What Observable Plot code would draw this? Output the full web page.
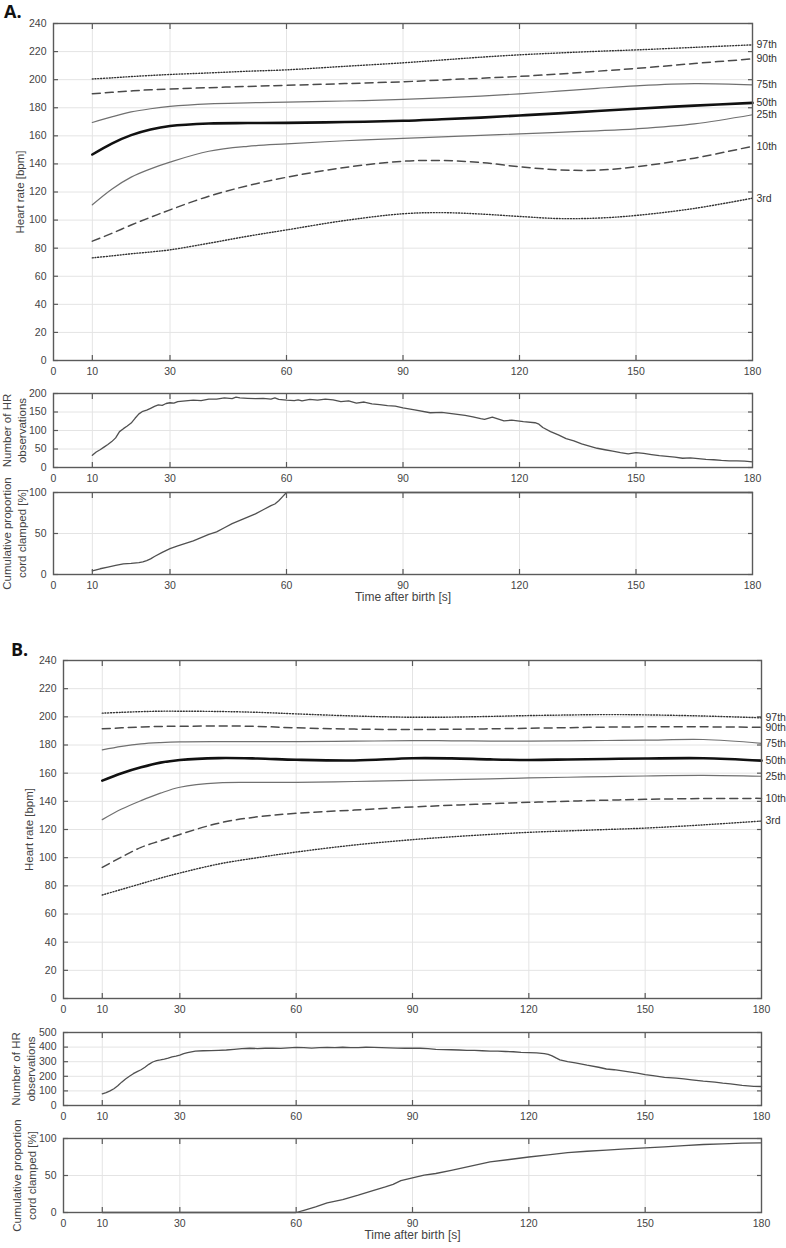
<!DOCTYPE html>
<html>
<head>
<meta charset="utf-8">
<script src="https://cdn.jsdelivr.net/npm/d3@7"></script>
<script src="https://cdn.jsdelivr.net/npm/@observablehq/plot@0.6"></script>
<style>
  html, body { margin: 0; padding: 0; background: #fff; }
  #root { position: relative; width: 786px; height: 1248px; background: #fff; overflow: hidden; }
  .panel { position: absolute; left: 0; }
  .tag { position: absolute; font-family: "Open Sans", "DejaVu Sans", sans-serif; font-weight: 700; font-size: 18px; line-height: 20px; color: #111; }
</style>
</head>
<body>
<div id="root">
  <div class="tag" style="left:4px;top:1px;">A.</div>
  <div class="tag" style="left:11px;top:639px;">B.</div>
</div>
<script>
// ---------- DATA ----------
const percentileNames = ["97th", "90th", "75th", "50th", "25th", "10th", "3rd"];
const xTickValues = [0, 10, 30, 60, 90, 120, 150, 180];
const xGridValues = [10, 30, 60, 90, 120, 150];
const hrTicks = [0, 20, 40, 60, 80, 100, 120, 140, 160, 180, 200, 220, 240];
const obsTicksA = [0, 50, 100, 150, 200];
const obsTicksB = [0, 100, 200, 300, 400, 500];
const cumTicks = [0, 50, 100];

// Panel A: heart-rate percentiles
const timeA = [10, 15, 20, 25, 30, 40, 50, 60, 75, 90, 100, 110, 120, 130, 140, 150, 165, 180];
const p97A = [200.5, 201.3, 202.2, 203, 203.7, 204.8, 206, 207, 209.5, 212, 214, 216, 217.7, 219, 220.2, 221.2, 223, 224.8];
const p90A = [190, 191, 192, 192.8, 193.3, 194.3, 195.2, 196, 197.2, 198.5, 199.8, 201, 202.3, 204, 206, 208, 211.5, 214.8];
const p75A = [169.5, 173.5, 177, 179.3, 181, 182.8, 183.5, 184, 184.8, 185.9, 187, 188.3, 189.9, 191.8, 193.8, 195.6, 197.2, 196.3];
const p50A = [146.7, 154.5, 160.5, 164.5, 167, 168.8, 169.1, 169.2, 169.8, 170.7, 171.8, 173, 174.5, 176, 177.7, 179.3, 181.5, 183.5];
const p25A = [110.9, 122, 130.6, 136.5, 141.3, 149, 152.5, 154.3, 156.5, 158.2, 159.3, 160.3, 161.4, 162.5, 163.6, 165, 168.5, 175];
const p10A = [85, 90.5, 96.5, 102, 107.3, 117, 124.5, 130.5, 137.5, 141.9, 142.4, 141, 138, 135.8, 135.5, 138, 144.1, 152.6];
const p3A  = [73.1, 74.5, 76, 77.3, 78.8, 83.5, 88.5, 93, 99.7, 104.5, 105.3, 104.3, 102.6, 101.1, 101.4, 103.3, 108.3, 115.6];

// Panel A: number of HR observations
const obsTimeA = [10, 11, 12, 13, 14, 15, 16, 17, 18, 19, 20, 21, 22, 23, 24, 25, 26, 27, 28, 29, 30, 31, 32, 34, 36, 38, 40, 42, 44, 46, 47, 48, 50, 52, 54, 56, 57, 58, 60, 62, 63, 64, 66, 68, 70, 72, 74, 76, 78, 80, 82, 84, 86, 88, 90, 93, 97, 100, 103, 106, 108, 110, 111, 113, 116, 118, 121, 124, 125, 126, 128, 130, 132, 134, 136, 138, 140, 142, 144, 146, 148, 150, 152, 154, 156, 158, 160, 162, 164, 166, 168, 170, 172, 174, 176, 178, 180];
const obsCountA = [33, 42, 48, 55, 62, 70, 80, 97, 105, 112, 120, 133, 145, 152, 155, 160, 165, 169, 168, 173, 175, 174, 178, 180, 182, 181, 185, 185, 188, 186, 190, 188, 187, 186, 187, 185, 188, 184, 182, 181, 183, 180, 184, 182, 185, 183, 178, 180, 174, 177, 172, 170, 167, 166, 161, 156, 148, 149, 145, 141, 137, 132, 130, 136, 126, 128, 124, 121, 117, 108, 97, 88, 78, 72, 64, 58, 52, 48, 44, 40, 37, 40, 38, 35, 32, 30, 28, 25, 26, 24, 22, 21, 19, 18, 18, 17, 15];

// Panel A: cumulative proportion cord clamped
const cumTimeA = [10, 12, 14, 16, 18, 20, 22, 23, 24, 25, 26, 28, 30, 32, 34, 36, 38, 40, 42, 44, 46, 48, 50, 52, 54, 56, 57, 58, 59, 60, 180];
const cumPctA  = [4.4, 7, 9, 11, 13, 13.5, 14.5, 15.5, 17, 19, 22, 27, 31.5, 35, 38, 41, 45, 49, 52, 57, 62, 66, 70, 74, 79, 84, 86, 90, 95, 100, 100];

// Panel B: heart-rate percentiles
const timeB = [10, 15, 20, 25, 30, 40, 50, 60, 75, 90, 100, 110, 120, 130, 140, 150, 165, 180];
const p97B = [202.6, 203.2, 203.7, 204, 204, 203.8, 203.2, 202.1, 200.6, 199.7, 199.8, 200.3, 200.9, 201.3, 201.6, 201.4, 200.6, 199.3];
const p90B = [191.5, 192.2, 192.8, 193.2, 193.3, 193.5, 193.2, 192.2, 191.3, 191, 191.2, 191.5, 191.9, 192.3, 192.7, 192.9, 192.9, 192.6];
const p75B = [176.5, 179, 180.8, 181.7, 182.2, 182.4, 182.4, 182.4, 182.7, 183.1, 183, 182.8, 182.7, 182.9, 183.2, 183.4, 183.9, 181.2];
const p50B = [154.7, 160, 164.2, 167.5, 169.4, 170.7, 170.4, 169.5, 169, 170.6, 170.5, 169.8, 169.4, 169.7, 170.1, 170.4, 170.6, 168.9];
const p25B = [127, 134.5, 140.5, 145.8, 150, 153.1, 153.4, 153.5, 154.1, 154.9, 155.4, 156, 156.6, 157.1, 157.5, 158, 158.4, 157.8];
const p10B = [93.1, 100.5, 107.3, 112, 116.5, 124.5, 129, 131.5, 133.8, 136, 137.2, 138.3, 139.3, 140.1, 140.8, 141.4, 142, 142.1];
const p3B  = [73.5, 77.5, 81.5, 85.5, 89.1, 95.5, 100, 104, 109, 112.8, 114.8, 116.5, 118, 119, 120, 121, 123.3, 126];

// Panel B: number of HR observations
const obsTimeB = [10, 11, 12, 13, 14, 15, 16, 17, 18, 19, 20, 21, 22, 23, 24, 25, 26, 27, 28, 29, 30, 31, 32, 33, 34, 36, 38, 40, 42, 44, 46, 48, 50, 52, 54, 56, 58, 60, 62, 64, 66, 68, 70, 72, 74, 76, 78, 80, 82, 84, 86, 88, 90, 92, 94, 96, 98, 100, 102, 104, 106, 108, 110, 112, 114, 116, 118, 120, 122, 124, 125, 126, 127, 128, 130, 132, 135, 138, 140, 142, 145, 148, 150, 152, 155, 158, 160, 162, 165, 168, 170, 172, 175, 178, 180];
const obsCountB = [80, 88, 100, 115, 135, 160, 182, 200, 218, 232, 245, 262, 282, 298, 307, 312, 318, 325, 333, 338, 345, 355, 362, 368, 372, 375, 376, 378, 380, 385, 390, 392, 390, 392, 393, 391, 395, 398, 397, 393, 396, 398, 396, 399, 396, 397, 399, 398, 397, 395, 393, 392, 393, 392, 390, 384, 383, 382, 380, 377, 378, 375, 373, 372, 370, 368, 364, 362, 360, 355, 350, 340, 326, 313, 301, 292, 276, 262, 250, 245, 233, 222, 211, 204, 193, 187, 182, 176, 167, 160, 153, 148, 138, 131, 130];

// Panel B: cumulative proportion cord clamped
const cumTimeB = [10, 60, 62, 65, 68, 72, 76, 80, 83, 85, 87, 90, 93, 96, 100, 105, 110, 115, 120, 125, 130, 135, 140, 145, 150, 155, 160, 165, 170, 175, 180];
const cumPctB  = [0, 0, 3, 7.7, 13, 17.5, 23.4, 30, 34.6, 38, 43, 46.8, 50.4, 52.7, 57, 62.6, 68.4, 71.6, 75, 77.8, 81, 82.8, 84.2, 86, 87.3, 88.7, 90.5, 91.9, 92.7, 93.7, 94];

// ---------- STYLES ----------
const FONT = "'Liberation Sans', Arial, sans-serif";
const styleFor = {
  "97th": {stroke: "#333", strokeWidth: 1.4, strokeDasharray: "1,1.8"},
  "90th": {stroke: "#4a4a4a", strokeWidth: 1.5, strokeDasharray: "8,5"},
  "75th": {stroke: "#707070", strokeWidth: 1.2, strokeDasharray: null},
  "50th": {stroke: "#111111", strokeWidth: 2.6, strokeDasharray: null},
  "25th": {stroke: "#707070", strokeWidth: 1.2, strokeDasharray: null},
  "10th": {stroke: "#4a4a4a", strokeWidth: 1.5, strokeDasharray: "8,5"},
  "3rd":  {stroke: "#333", strokeWidth: 1.4, strokeDasharray: "1,1.8"}
};

function zipSeries(xs, ys) { return xs.map((x, i) => ({x, y: ys[i]})); }

function frameMarks(yTicks, ylabel, ylabelDx, xlabel) {
  const grid = "#e4e4e4";
  const under = [
    Plot.gridX(xGridValues, {stroke: grid, strokeOpacity: 1, strokeWidth: 1}),
    Plot.gridY(yTicks, {stroke: grid, strokeOpacity: 1, strokeWidth: 1})
  ];
  const over = [
    Plot.frame({stroke: "#5a5a5a", strokeWidth: 1.4}),
    Plot.axisX(xTickValues, {anchor: "bottom", tickSize: 0, tickPadding: 7, label: null, fill: "#444", fontSize: 10.5}),
    Plot.axisX(xGridValues, {anchor: "bottom", tickSize: -5, fill: "none", label: null, stroke: "#5a5a5a", strokeWidth: 1.2}),
    Plot.axisX(xGridValues, {anchor: "top", tickSize: -5, fill: "none", label: null, stroke: "#5a5a5a", strokeWidth: 1.2}),
    Plot.axisY(yTicks, {anchor: "left", tickSize: 0, tickPadding: 7, label: null, fill: "#444", fontSize: 10.5}),
    Plot.axisY(yTicks, {anchor: "left", tickSize: -5, fill: "none", label: null, stroke: "#5a5a5a", strokeWidth: 1.2}),
    Plot.axisY(yTicks, {anchor: "right", tickSize: -5, fill: "none", label: null, stroke: "#5a5a5a", strokeWidth: 1.2}),
    Plot.text([ylabel], {frameAnchor: "left", rotate: -90, dx: ylabelDx, textAnchor: "middle", lineAnchor: "middle",
      fontSize: 11.5, lineHeight: 1.3, fill: "#444", fontFamily: FONT})
  ];
  if (xlabel) over.push(Plot.text([xlabel], {frameAnchor: "bottom", dy: 26, textAnchor: "middle", fontSize: 12, fill: "#444", fontFamily: FONT}));
  return {under, over};
}

function panel({top, height, mt, mb, ml, mr, yDomain, yTicks, dataMarks, ylabel, ylabelDx, xlabel}) {
  const fm = frameMarks(yTicks, ylabel, ylabelDx, xlabel);
  const svg = Plot.plot({
    width: 786, height,
    marginTop: mt, marginBottom: mb, marginLeft: ml, marginRight: mr,
    style: {background: "none", overflow: "visible", fontFamily: FONT, fontSize: "10.5px", color: "#444"},
    x: {domain: [0, 180]},
    y: {domain: yDomain},
    marks: [...fm.under, ...(typeof dataMarks === "function" ? dataMarks(height - mt - mb, yDomain) : dataMarks), ...fm.over]
  });
  const wrap = document.createElement("div");
  wrap.className = "panel";
  wrap.style.top = top + "px";
  wrap.appendChild(svg);
  document.getElementById("root").appendChild(wrap);
}

function percentileMarks(time, seriesList) {
  return (innerH, yDomain) => {
    const pxPerUnit = innerH / (yDomain[1] - yDomain[0]);
    const marks = [];
    const ends = [];
    seriesList.forEach((vals, i) => {
      const name = percentileNames[i];
      const s = styleFor[name];
      marks.push(Plot.line(zipSeries(time, vals), {
        x: "x", y: "y", curve: "catmull-rom",
        stroke: s.stroke, strokeWidth: s.strokeWidth, strokeDasharray: s.strokeDasharray
      }));
      ends.push({x: time[time.length - 1], y: vals[vals.length - 1], name, dy: 0});
    });
    // simple dodge so that end labels do not collide (min 10.5 px apart)
    const minGap = 10.5;
    for (let k = 1; k < ends.length; k++) {
      const prev = ends[k - 1], cur = ends[k];
      const prevPx = -prev.y * pxPerUnit + prev.dy;
      const curPx = -cur.y * pxPerUnit + cur.dy;
      if (curPx - prevPx < minGap) {
        const need = minGap - (curPx - prevPx);
        prev.dy -= need / 2;
        cur.dy += need / 2;
      }
    }
    ends.forEach(e => {
      marks.push(Plot.text([e], {x: "x", y: "y", text: "name", textAnchor: "start", dx: 4, dy: e.dy,
        fontSize: 10.5, fill: "#333", fontFamily: FONT}));
    });
    return marks;
  };
}

function simpleLine(xs, ys) {
  return [Plot.line(zipSeries(xs, ys), {x: "x", y: "y", stroke: "#505050", strokeWidth: 1.3})];
}

// ---------- PANEL A ----------
panel({top: 0, height: 385, mt: 23, mb: 25, ml: 53, mr: 34, yDomain: [0, 240], yTicks: hrTicks,
  dataMarks: percentileMarks(timeA, [p97A, p90A, p75A, p50A, p25A, p10A, p3A]),
  ylabel: "Heart rate [bpm]", ylabelDx: -34});
panel({top: 380, height: 110, mt: 13, mb: 23, ml: 53, mr: 34, yDomain: [0, 200], yTicks: obsTicksA,
  dataMarks: simpleLine(obsTimeA, obsCountA),
  ylabel: "Number of HR\nobservations", ylabelDx: -40});
panel({top: 480, height: 132, mt: 12, mb: 38, ml: 53, mr: 34, yDomain: [0, 100], yTicks: cumTicks,
  dataMarks: simpleLine(cumTimeA, cumPctA),
  ylabel: "Cumulative proportion\ncord clamped [%]", ylabelDx: -40, xlabel: "Time after birth [s]"});

// ---------- PANEL B ----------
panel({top: 640, height: 382, mt: 20, mb: 24, ml: 63, mr: 25, yDomain: [0, 240], yTicks: hrTicks,
  dataMarks: percentileMarks(timeB, [p97B, p90B, p75B, p50B, p25B, p10B, p3B]),
  ylabel: "Heart rate [bpm]", ylabelDx: -35});
panel({top: 1020, height: 110, mt: 12, mb: 25, ml: 63, mr: 25, yDomain: [0, 500], yTicks: obsTicksB,
  dataMarks: simpleLine(obsTimeB, obsCountB),
  ylabel: "Number of HR\nobservations", ylabelDx: -41});
panel({top: 1128, height: 120, mt: 10, mb: 36, ml: 63, mr: 25, yDomain: [0, 100], yTicks: cumTicks,
  dataMarks: simpleLine(cumTimeB, cumPctB),
  ylabel: "Cumulative proportion\ncord clamped [%]", ylabelDx: -40, xlabel: "Time after birth [s]"});
</script>
</body>
</html>
